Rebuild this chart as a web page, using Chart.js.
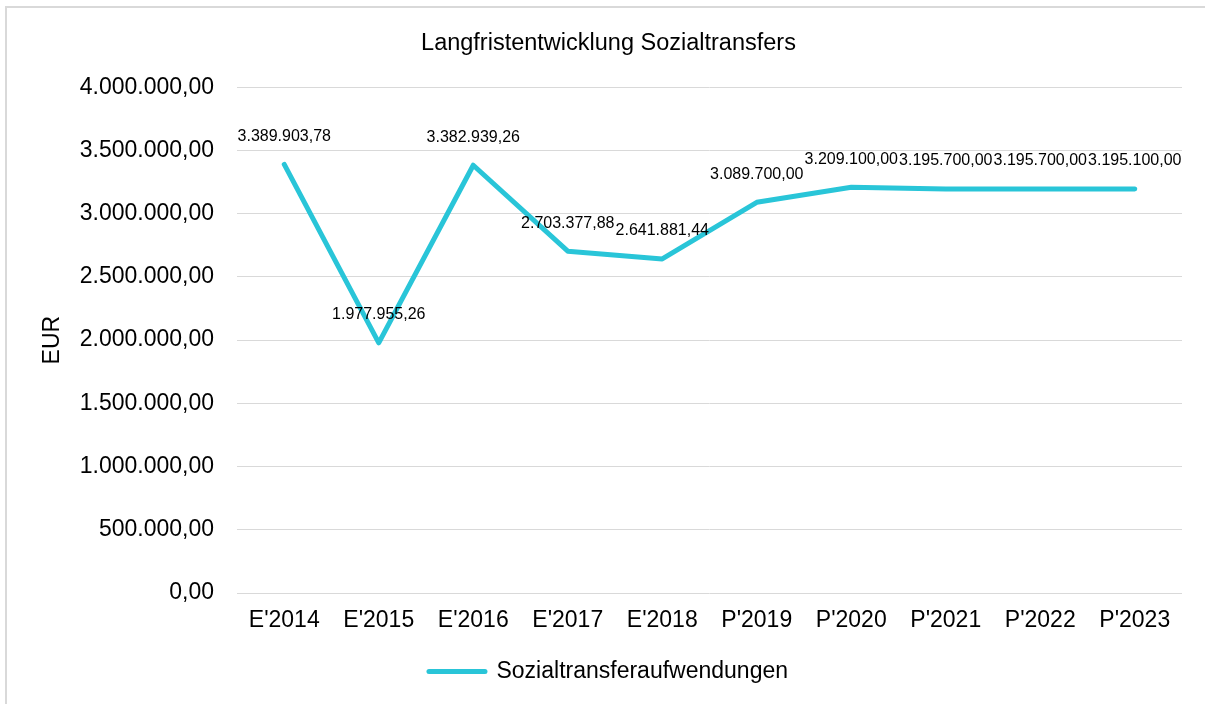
<!DOCTYPE html>
<html>
<head>
<meta charset="utf-8">
<script src="https://cdn.jsdelivr.net/npm/chart.js@4.4.1/dist/chart.umd.min.js"></script>
<style>
  html, body { margin: 0; padding: 0; background: #fff; }
  #wrap { position: relative; width: 1205px; height: 704px; }
  #rahmen { position: absolute; left: 5px; top: 6px; right: -10px; bottom: -10px;
    border-left: 2px solid #d9d9d9; border-top: 2px solid #d9d9d9; pointer-events: none; }
</style>
</head>
<body>
<div id="wrap">
  <canvas id="chart" width="1205" height="704"></canvas>
  <div id="rahmen"></div>
</div>
<script>
const jahre = ["E'2014", "E'2015", "E'2016", "E'2017", "E'2018", "P'2019", "P'2020", "P'2021", "P'2022", "P'2023"];
const sozialtransfers = [3389903.78, 1977955.26, 3382939.26, 2703377.88, 2641881.44, 3089700.00, 3209100.00, 3195700.00, 3195700.00, 3195100.00];
const yMin = 0;
const yMax = 4000000;
const yStep = 500000;

const schrift = "'Liberation Sans', Arial, sans-serif";
const farbe = '#29c5d8';

// Zahl im deutschen Format: 3.389.903,78
function formatEUR(v) {
  const teile = v.toFixed(2).split('.');
  const ganz = teile[0].replace(/\B(?=(\d{3})+(?!\d))/g, '.');
  return ganz + ',' + teile[1];
}

const datenBeschriftung = {
  id: 'datenBeschriftung',
  afterDatasetsDraw(chart) {
    const ctx = chart.ctx;
    const meta = chart.getDatasetMeta(0);
    ctx.save();
    ctx.font = '16px ' + schrift;
    ctx.fillStyle = '#000';
    ctx.textAlign = 'center';
    ctx.textBaseline = 'middle';
    meta.data.forEach((pt, i) => {
      ctx.fillText(formatEUR(sozialtransfers[i]), pt.x, pt.y - 28);
    });
    ctx.restore();
  }
};

new Chart(document.getElementById('chart'), {
  type: 'line',
  data: {
    labels: jahre,
    datasets: [{
      label: 'Sozialtransferaufwendungen',
      data: sozialtransfers,
      borderColor: farbe,
      backgroundColor: farbe,
      borderWidth: 5,
      borderCapStyle: 'round',
      borderJoinStyle: 'round',
      pointRadius: 0,
      tension: 0,
      fill: false
    }]
  },
  options: {
    responsive: false,
    animation: false,
    layout: { padding: { left: 35, right: 23, top: 10, bottom: 11 } },
    plugins: {
      title: {
        display: true,
        text: 'Langfristentwicklung Sozialtransfers',
        color: '#000',
        font: { family: schrift, size: 23.5, weight: 'normal' },
        padding: { top: 19, bottom: 30 }
      },
      legend: {
        position: 'bottom',
        labels: {
          color: '#000',
          font: { family: schrift, size: 23 },
          usePointStyle: true,
          pointStyleWidth: 56,
          padding: 10,
          generateLabels: () => [{
            text: 'Sozialtransferaufwendungen',
            strokeStyle: farbe,
            fillStyle: farbe,
            lineWidth: 5,
            lineCap: 'round',
            pointStyle: 'line',
            datasetIndex: 0,
            fontColor: '#000'
          }]
        }
      },
      tooltip: { enabled: false }
    },
    scales: {
      x: {
        offset: true,
        grid: { display: false, drawTicks: false },
        border: { display: false },
        ticks: { color: '#000', font: { family: schrift, size: 23 }, padding: 14, maxRotation: 0 },
        afterFit(scale) { scale.height = 57; }
      },
      y: {
        min: yMin,
        max: yMax,
        grid: { color: '#d9d9d9', lineWidth: 1, drawTicks: false },
        border: { display: false },
        ticks: {
          stepSize: yStep,
          color: '#000',
          font: { family: schrift, size: 23 },
          padding: 23,
          callback: v => formatEUR(v)
        },
        title: {
          display: true,
          text: 'EUR',
          color: '#000',
          font: { family: schrift, size: 23 },
          padding: { top: 4, bottom: 0 }
        },
        afterFit(scale) { scale.width = 202; }
      }
    }
  },
  plugins: [datenBeschriftung]
});
</script>
</body>
</html>
